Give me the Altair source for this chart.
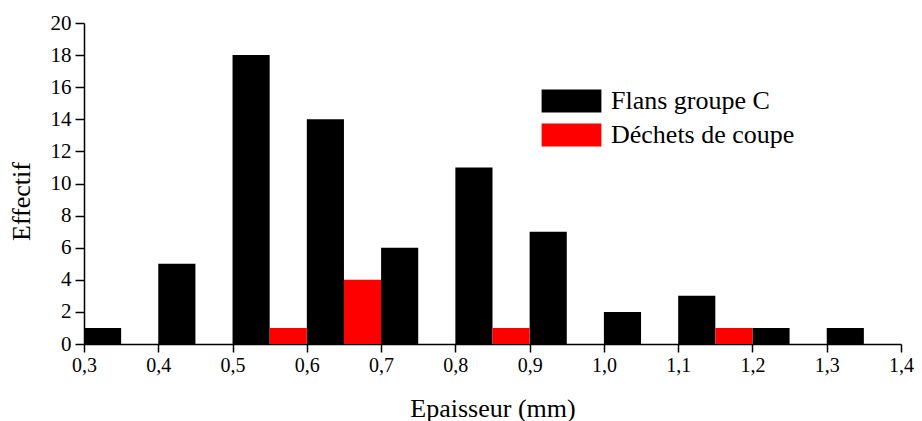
import altair as alt
import pandas as pd

# Data
black_left = [0.30, 0.40, 0.50, 0.60, 0.70, 0.80, 0.90, 1.00, 1.10, 1.20, 1.30]
black_counts = [1, 5, 18, 14, 6, 11, 7, 2, 3, 1, 1]
red_left = [0.55, 0.65, 0.85, 1.15]
red_counts = [1, 4, 1, 1]
bin_width = 0.05
series_names = ["Flans groupe C", "Déchets de coupe"]
series_colors = ["#000000", "#FF0000"]
x_ticks = [0.3, 0.4, 0.5, 0.6, 0.7, 0.8, 0.9, 1.0, 1.1, 1.2, 1.3, 1.4]
y_ticks = [0, 2, 4, 6, 8, 10, 12, 14, 16, 18, 20]

rows = []
for l, c in zip(black_left, black_counts):
    rows.append({"start": l, "end": round(l + bin_width, 3), "count": c, "serie": series_names[0]})
for l, c in zip(red_left, red_counts):
    rows.append({"start": l, "end": round(l + bin_width, 3), "count": c, "serie": series_names[1]})
df = pd.DataFrame(rows)

FONT = "Liberation Serif"

chart = alt.Chart(df).mark_bar(strokeWidth=0, orient="vertical").encode(
    x=alt.X("start:Q",
            scale=alt.Scale(domain=[0.3, 1.4], nice=False, zero=False, padding=0),
            axis=alt.Axis(values=x_ticks, title="Epaisseur (mm)",
                          labelExpr="replace(format(datum.value, '.1f'), '.', ',')",
                          grid=False, tickSize=8, labelPadding=3,
                          labelFontSize=20, titleFontSize=26,
                          titleY=72, titleBaseline="alphabetic",
                          labelFlush=False)),
    x2="end:Q",
    y=alt.Y("count:Q",
            scale=alt.Scale(domain=[0, 20], nice=False, padding=0),
            axis=alt.Axis(values=y_ticks, title="Effectif", grid=False,
                          tickSize=9, labelPadding=4, labelFontSize=21,
                          titleFontSize=26, titleX=-63, titleY=178,
                          titleBaseline="middle")),
    y2=alt.datum(0),
    color=alt.Color("serie:N",
                    scale=alt.Scale(domain=series_names, range=series_colors),
                    legend=alt.Legend(title=None, orient="none",
                                      legendX=474.5, legendY=65,
                                      symbolType="M-2.6,-1 H2.6 V1 H-2.6 Z",
                                      symbolSize=529, symbolStrokeWidth=0,
                                      labelOffset=26.5, labelFontSize=26,
                                      labelLimit=0,
                                      rowPadding=8, padding=0,
                                      labelFont=FONT, labelColor="#000000")),
).properties(
    width=817, height=321,
    background="white",
    autosize=alt.AutoSizeParams(type="none"),
    padding={"left": 76, "top": 15, "right": 13, "bottom": 77},
).configure_view(stroke=None).configure_axis(
    labelFont=FONT, titleFont=FONT, labelColor="#000000", titleColor="#000000",
    domainColor="#000000", tickColor="#000000", domainWidth=1.5, tickWidth=1.5,
    titleFontWeight="normal",
)

chart.save("out.html", embed_options={"renderer": "svg", "actions": False})
